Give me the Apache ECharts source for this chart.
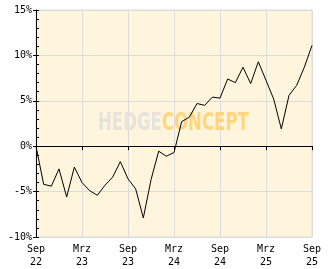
<!DOCTYPE html>
<html>
<head>
<meta charset="utf-8">
<script src="https://cdn.jsdelivr.net/npm/echarts@6/dist/echarts.min.js"></script>
<style>
html,body{margin:0;padding:0;background:#fff;}
#c{width:332px;height:269px;}
</style>
</head>
<body>
<div id="c"></div>
<script>
var months = ['Sep\n22','Okt\n22','Nov\n22','Dez\n22','Jan\n23','Feb\n23','Mrz\n23','Apr\n23','Mai\n23','Jun\n23','Jul\n23','Aug\n23',
  'Sep\n23','Okt\n23','Nov\n23','Dez\n23','Jan\n24','Feb\n24','Mrz\n24','Apr\n24','Mai\n24','Jun\n24','Jul\n24','Aug\n24',
  'Sep\n24','Okt\n24','Nov\n24','Dez\n24','Jan\n25','Feb\n25','Mrz\n25','Apr\n25','Mai\n25','Jun\n25','Jul\n25','Aug\n25','Sep\n25'];
var performance = [0, -4.2, -4.4, -2.5, -5.6, -2.3, -4.0, -4.9, -5.4, -4.3, -3.4, -1.7,
  -3.6, -4.7, -7.9, -3.7, -0.55, -1.1, -0.7, 2.7, 3.2, 4.7, 4.5, 5.4,
  5.3, 7.4, 7.0, 8.7, 6.9, 9.3, 7.25, 5.2, 1.9, 5.6, 6.7, 8.7, 11.1];
var yMin = -10, yMax = 15, yStep = 5;

var chart = echarts.init(document.getElementById('c'), null, {renderer: 'canvas'});
var labelFont = {fontFamily: 'DejaVu Sans Mono', fontSize: 10, color: '#000'};
chart.setOption({
  animation: false,
  backgroundColor: '#ffffff',
  grid: {left: 36, right: 20, top: 10, bottom: 32, show: true, backgroundColor: '#FFF5DC', borderColor: '#dcdcdc', borderWidth: 1},
  xAxis: {
    type: 'category', data: months, boundaryGap: false,
    axisLine: {show: true, lineStyle: {color: '#000', width: 1}},
    axisTick: {show: true, interval: 5, length: 4, lineStyle: {color: '#000'}},
    axisLabel: Object.assign({interval: 5, margin: 6, lineHeight: 13}, labelFont),
    splitLine: {show: true, interval: 5, lineStyle: {color: '#dcdcdc', width: 1}}
  },
  yAxis: [{
    type: 'value', min: yMin, max: yMax, interval: yStep,
    axisLine: {show: true, lineStyle: {color: '#000', width: 1}},
    axisTick: {show: true, inside: true, length: 3, lineStyle: {color: '#000'}},
    minorTick: {show: true, splitNumber: 5, length: 3, lineStyle: {color: '#000'}},
    axisLabel: Object.assign({margin: 4, formatter: '{value}%'}, labelFont),
    splitLine: {show: true, lineStyle: {color: '#dcdcdc', width: 1}}
  }, {
    type: 'value', min: yMin, max: yMax, interval: yStep, position: 'left',
    axisLine: {show: false},
    axisTick: {show: true, inside: false, length: 3, lineStyle: {color: '#000'}},
    axisLabel: {show: false},
    splitLine: {show: false}
  }],
  graphic: [{
    type: 'text', left: 98, top: 112, z: 1, scaleX: 0.69,
    style: {
      text: '{a|HEDGE}{b|CONCEPT}',
      rich: {
        a: {fill: '#E6E3DC', fontFamily: 'DejaVu Sans', fontWeight: 'bold', fontSize: 24},
        b: {fill: '#FFD67E', fontFamily: 'DejaVu Sans', fontWeight: 'bold', fontSize: 24}
      }
    }
  }],
  series: [{
    type: 'line', data: performance, yAxisIndex: 0, z: 5,
    showSymbol: false, symbol: 'none',
    lineStyle: {color: '#000', width: 1}
  }]
});
</script>
</body>
</html>
